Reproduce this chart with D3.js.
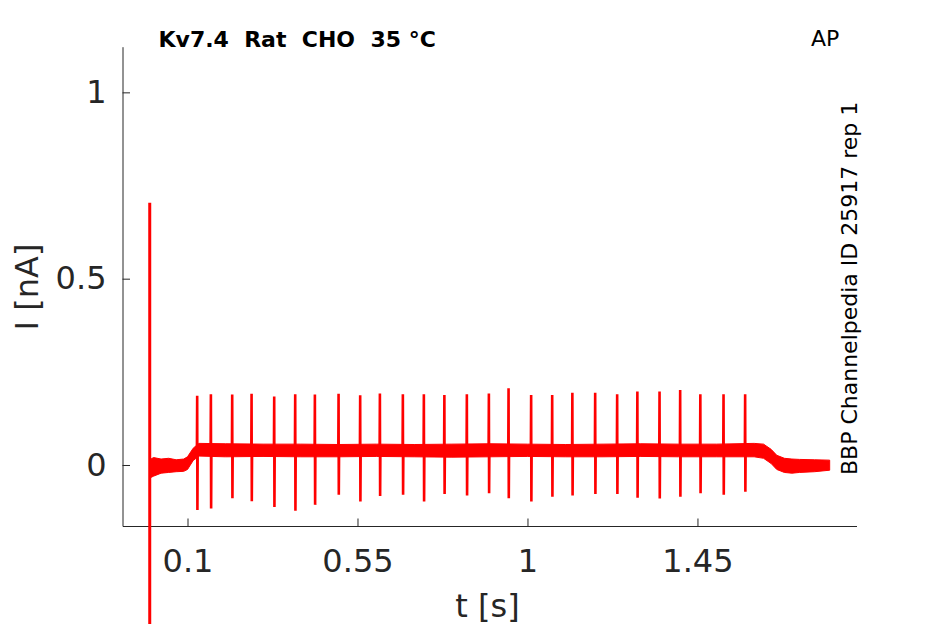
<!DOCTYPE html>
<html>
<head>
<meta charset="utf-8">
<script src="https://cdn.jsdelivr.net/npm/d3@7"></script>
<style>
  body { margin: 0; background: #fff; }
  text { font-family: "DejaVu Sans", sans-serif; }
</style>
</head>
<body>
<div id="trace_plot"></div>
<script>
// data
const spikeTimes = [0.1259, 0.1622, 0.2186, 0.2699, 0.3298, 0.3854, 0.4375, 0.5002, 0.5574,
    0.6096, 0.6704, 0.7260, 0.7803, 0.8398, 0.8981, 0.9502, 1.0100, 1.0657, 1.1191, 1.1795,
    1.2377, 1.2912, 1.3499, 1.4045, 1.4579, 1.5193, 1.5765];
const spikePeaks = [0.186, 0.190, 0.189, 0.191, 0.184, 0.190, 0.189, 0.191, 0.187, 0.192,
    0.190, 0.190, 0.188, 0.190, 0.192, 0.206, 0.188, 0.188, 0.194, 0.194, 0.190, 0.197,
    0.197, 0.201, 0.190, 0.190, 0.190];
const spikeTroughs = [-0.121, -0.117, -0.089, -0.097, -0.113, -0.123, -0.107, -0.080, -0.098,
    -0.083, -0.080, -0.098, -0.078, -0.082, -0.076, -0.089, -0.098, -0.085, -0.082, -0.078,
    -0.078, -0.088, -0.090, -0.085, -0.076, -0.080, -0.072];
const spikeBase = 0.04;

// noise band of the holding current (upper / lower edge)
const bandT  = [0, 0.01, 0.03, 0.05, 0.07, 0.09, 0.1, 0.115, 0.13, 0.2, 0.3, 0.4, 0.5, 0.6, 0.7,
    0.8, 0.9, 1.0, 1.1, 1.2, 1.3, 1.4, 1.5, 1.6, 1.625, 1.645, 1.66, 1.68, 1.7, 1.72, 1.76, 1.8];
const bandHi = [0.014, 0.020, 0.016, 0.018, 0.014, 0.016, 0.022, 0.045, 0.058, 0.057, 0.056,
    0.056, 0.055, 0.056, 0.055, 0.056, 0.057, 0.056, 0.055, 0.056, 0.057, 0.056, 0.056, 0.058,
    0.056, 0.042, 0.026, 0.018, 0.016, 0.015, 0.014, 0.013];
const bandLo = [-0.035, -0.030, -0.022, -0.020, -0.018, -0.017, -0.012, 0.012, 0.024, 0.022,
    0.023, 0.022, 0.022, 0.023, 0.022, 0.021, 0.022, 0.023, 0.022, 0.022, 0.023, 0.022, 0.022,
    0.022, 0.018, 0.004, -0.012, -0.020, -0.022, -0.020, -0.018, -0.014];

// stimulus artefact at t = 0
const stimT = [0, 0];
const stimI = [0.704, -0.5];

const xTicks = [0.1, 0.55, 1, 1.45];
const yTicks = [0, 0.5, 1];

const titleText = 'Kv7.4  Rat  CHO  35 °C';
const protocolText = 'AP';
const sourceText = 'BBP Channelpedia ID 25917 rep 1';

// size of svg and plot box
const width = 945; const height = 624;
const box = {left: 122.5, right: 856.5, top: 46.7, bottom: 526};
const axisColor = '#262626';
const traceColor = '#ff0000';

let svg = d3.select('#trace_plot')
    .append('svg')
        .attr('width', width)
        .attr('height', height);

const xScale = d3.scaleLinear()
    .domain([-0.0721, 1.871])
    .range([box.left, box.right]);
const yScale = d3.scaleLinear()
    .domain([-0.1637, 1.1225])
    .range([box.bottom, box.top]);

// trace: noise band
const band = d3.area()
    .x((d, i) => xScale(bandT[i]))
    .y0((d, i) => yScale(bandLo[i]))
    .y1((d, i) => yScale(bandHi[i]));
svg.append('path')
    .datum(bandT)
    .attr('d', band)
    .attr('fill', traceColor)
    .attr('stroke', traceColor)
    .attr('stroke-width', 1);

// spikes
const line = d3.line()
    .x(d => xScale(d[0]))
    .y(d => yScale(d[1]));
const spikes = spikeTimes.map((t, i) => [
    [t - 0.001, spikeBase + 0.005],
    [t - 0.0003, spikePeaks[i]],
    [t + 0.0003, spikeTroughs[i]],
    [t + 0.001, spikeBase - 0.005]
]);
svg.selectAll('.spike')
    .data(spikes)
    .enter()
    .append('path')
        .attr('class', 'spike')
        .attr('d', line)
        .attr('fill', 'none')
        .attr('stroke', traceColor)
        .attr('stroke-width', 2.6);

// axes
const xAxis = d3.axisBottom(xScale)
    .tickValues(xTicks)
    .tickFormat(d3.format('~g'))
    .tickSizeInner(-7.5)
    .tickSizeOuter(0)
    .tickPadding(23);
const xAxisG = svg.append('g')
    .attr('transform', `translate(0, ${box.bottom})`)
    .call(xAxis);

const yAxis = d3.axisLeft(yScale)
    .tickValues(yTicks)
    .tickFormat(d3.format('~g'))
    .tickSizeInner(-7.5)
    .tickSizeOuter(0)
    .tickPadding(16);
const yAxisG = svg.append('g')
    .attr('transform', `translate(${box.left}, 0)`)
    .call(yAxis);

[xAxisG, yAxisG].forEach(g => {
    g.select('.domain').attr('stroke', axisColor);
    g.selectAll('.tick line').attr('stroke', axisColor);
    g.selectAll('.tick text')
        .attr('fill', axisColor)
        .style('font-size', '32px')
        .style('font-family', '"DejaVu Sans", sans-serif');
});

// stimulus artefact, drawn over the axis
svg.append('path')
    .datum(stimT.map((t, i) => [t, stimI[i]]))
    .attr('d', line)
    .attr('fill', 'none')
    .attr('stroke', traceColor)
    .attr('stroke-width', 3);

// axis labels
svg.append('text')
    .attr('x', (box.left + box.right) / 2 - 2)
    .attr('y', 617)
    .attr('text-anchor', 'middle')
    .attr('fill', axisColor)
    .style('font-size', '32px')
    .text('t [s]');

svg.append('text')
    .attr('transform', `translate(37.7, 287) rotate(-90)`)
    .attr('text-anchor', 'middle')
    .attr('fill', axisColor)
    .style('font-size', '32px')
    .text('I [nA]');

// title and notes
svg.append('text')
    .attr('x', 158.5)
    .attr('y', 46.5)
    .attr('fill', '#000')
    .style('font-size', '22px')
    .style('font-weight', 'bold')
    .style('white-space', 'pre')
    .text(titleText);

svg.append('text')
    .attr('x', 811)
    .attr('y', 46)
    .attr('fill', '#000')
    .style('font-size', '22px')
    .text(protocolText);

svg.append('text')
    .attr('transform', `translate(857, 475) rotate(-90)`)
    .attr('fill', '#000')
    .style('font-size', '22px')
    .text(sourceText);
</script>
</body>
</html>
